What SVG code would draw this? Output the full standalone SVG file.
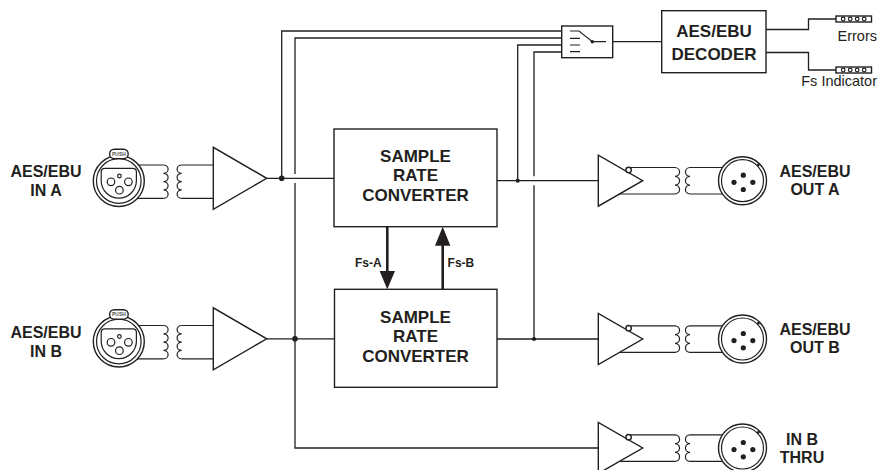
<svg xmlns="http://www.w3.org/2000/svg" xmlns:xlink="http://www.w3.org/1999/xlink" width="880" height="470" viewBox="0 0 880 470">
<style>
.w{fill:none;stroke:#231f20;stroke-width:1.3}
.b{fill:#fff;stroke:#231f20;stroke-width:1.4}
.thin{fill:none;stroke:#231f20;stroke-width:1.2}
.dot{fill:#231f20}
.fat{fill:none;stroke:#231f20;stroke-width:2.6}
.lbl{font-family:"Liberation Sans",Arial,sans-serif;font-weight:bold;font-size:16px;fill:#231f20;text-anchor:middle}
.box{font-family:"Liberation Sans",Arial,sans-serif;font-weight:bold;font-size:17px;fill:#231f20;text-anchor:middle}
.sm{font-family:"Liberation Sans",Arial,sans-serif;font-weight:bold;font-size:12px;fill:#231f20}
.reg{font-family:"Liberation Sans",Arial,sans-serif;font-size:14.5px;fill:#231f20;text-anchor:end}
.push{font-family:"Liberation Sans",Arial,sans-serif;font-weight:bold;font-size:5px;fill:#555;text-anchor:middle}
</style>
<defs>
<g id="inChain">
<path class="thin" d="M130,165H163.5M130,198.3H163.5M181.7,165H214M181.7,198.3H214"/>
<path class="thin" d="M163.5,165a4.6,4.1625 0 0 1 0,8.325a4.6,4.1625 0 0 1 0,8.325a4.6,4.1625 0 0 1 0,8.325a4.6,4.1625 0 0 1 0,8.325"/>
<path class="thin" d="M181.7,165a4.6,4.1625 0 0 0 0,8.325a4.6,4.1625 0 0 0 0,8.325a4.6,4.1625 0 0 0 0,8.325a4.6,4.1625 0 0 0 0,8.325"/>
<circle class="b" cx="118.8" cy="181" r="25.5"/>
<circle class="thin" cx="118.8" cy="181" r="22.3"/>
<rect class="b" x="109.6" y="149.2" width="18.6" height="9.4" rx="4.7" stroke-width="1.1"/>
<text class="push" x="118.9" y="155.7">PUSH</text>
<path class="thin" d="M101.2,172Q101.2,168.4 105,168.4L132.6,168.4Q136.4,168.4 136.4,172L136.4,180.6A17.6,17.6 0 0 1 101.2,180.6Z"/>
<circle class="thin" cx="111" cy="181.8" r="3.8"/>
<circle class="thin" cx="128.4" cy="181.8" r="3.8"/>
<circle class="thin" cx="119.4" cy="190.2" r="3.8"/>
<circle class="thin" cx="119.4" cy="176" r="1.8"/>
<polygon class="b" points="213.3,147.3 213.3,209.3 266.7,178.3" stroke-width="1.2"/>
</g>
<g id="outChain">
<path class="thin" d="M631,167.5H675M619.5,194H675M690,167.5H726M690,194H726"/>
<path class="thin" d="M675,167.5a4.6,4.4167 0 0 1 0,8.833a4.6,4.4167 0 0 1 0,8.833a4.6,4.4167 0 0 1 0,8.833"/>
<path class="thin" d="M690,167.5a4.6,4.4167 0 0 0 0,8.833a4.6,4.4167 0 0 0 0,8.833a4.6,4.4167 0 0 0 0,8.833"/>
<polygon class="b" points="598.3,155.2 598.3,206.2 642.7,180.7" stroke-width="1.2"/>
<circle class="b" cx="628.6" cy="169.9" r="2.7" stroke-width="1.1"/>
<circle class="b" cx="742.5" cy="180.7" r="24"/>
<circle class="thin" cx="742.5" cy="180.7" r="21"/>
<circle class="dot" cx="758.3" cy="165" r="1.4"/>
<circle class="dot" cx="743.3" cy="175.2" r="2.6"/>
<circle class="dot" cx="734" cy="182.3" r="2.6"/>
<circle class="dot" cx="752.8" cy="182.3" r="2.6"/>
<circle class="dot" cx="743.3" cy="189.5" r="2.6"/>
</g>
<g id="led">
<rect class="b" x="836" y="-3" width="35.5" height="6" stroke-width="1.1"/>
<circle class="thin" cx="843.2" cy="0" r="1.8" stroke-width="0.9"/>
<circle class="thin" cx="850.2" cy="0" r="1.8" stroke-width="0.9"/>
<circle class="thin" cx="857.2" cy="0" r="1.8" stroke-width="0.9"/>
<circle class="thin" cx="864.2" cy="0" r="1.8" stroke-width="0.9"/>
</g>
</defs>
<rect width="880" height="470" fill="#fff"/>
<g id="connectors">
<path class="w" d="M281.7,178.3V31H561.7"/>
<path class="w" d="M295,174V38H561.7M295,183V448H598.3"/>
<path class="w" d="M517.7,180.7V45H561.7"/>
<path class="w" d="M534,176.2V52H561.7M534,185.2V339"/>
<path class="w" d="M266.7,178.3H334M266.7,338.8H334.5"/>
<path class="w" d="M497,180.7H598.3M497,339H598.3"/>
<path class="w" d="M612.7,41.7H661.7"/>
<path class="w" d="M766,29.5H808.5V19H836M766,52.5H808.5V70H836"/>
<circle class="dot" cx="281.7" cy="178.3" r="2.8"/>
<circle class="dot" cx="295" cy="338.8" r="2.8"/>
<circle class="dot" cx="517.7" cy="180.7" r="2.1"/>
<circle class="dot" cx="534" cy="339" r="2.1"/>
<g id="fs-a">
<path class="fat" d="M387.3,226.7V273"/>
<polygon class="dot" points="379.6,271 395,271 387.3,289.3"/>
</g>
<g id="fs-b">
<path class="fat" d="M442.7,289.3V244"/>
<polygon class="dot" points="435,245.7 450.4,245.7 442.7,226.7"/>
</g>
<text class="sm" x="381.6" y="266.5" text-anchor="end">Fs-A</text>
<text class="sm" x="447.6" y="266.5">Fs-B</text>
</g>
<g id="in-a">
<use xlink:href="#inChain" href="#inChain"/>
<text class="lbl" x="46" y="177.3">AES/EBU</text>
<text class="lbl" x="46" y="196">IN A</text>
</g>
<g id="in-b">
<use xlink:href="#inChain" href="#inChain" transform="translate(0,160.5)"/>
<text class="lbl" x="46" y="337.9">AES/EBU</text>
<text class="lbl" x="46" y="356.5">IN B</text>
</g>
<g id="src-a">
<rect class="b" x="334" y="129" width="163" height="97.7"/>
<text class="box" x="415.5" y="162">SAMPLE</text>
<text class="box" x="415.5" y="181">RATE</text>
<text class="box" x="415.5" y="200.5">CONVERTER</text>
</g>
<g id="src-b">
<rect class="b" x="334.5" y="289.3" width="162.5" height="98"/>
<text class="box" x="415.5" y="323">SAMPLE</text>
<text class="box" x="415.5" y="342">RATE</text>
<text class="box" x="415.5" y="361.5">CONVERTER</text>
</g>
<g id="switch">
<rect class="b" x="561.7" y="26" width="51" height="31.7"/>
<path class="thin" d="M570,31H579L592.3,41.7H606M570,38.3H580M570,45H580M570,51.7H580"/>
<circle class="dot" cx="592.3" cy="41.7" r="1.7"/>
</g>
<g id="decoder">
<rect class="b" x="661.7" y="10.7" width="104.3" height="62"/>
<text class="box" x="714" y="37.3">AES/EBU</text>
<text class="box" x="714" y="59.7">DECODER</text>
</g>
<g id="errors">
<use xlink:href="#led" href="#led" transform="translate(0,19)"/>
<text class="reg" x="877" y="40.5">Errors</text>
</g>
<g id="fs-indicator">
<use xlink:href="#led" href="#led" transform="translate(0,70)"/>
<text class="reg" x="877" y="85.5">Fs Indicator</text>
</g>
<g id="out-a">
<use xlink:href="#outChain" href="#outChain"/>
<text class="lbl" x="815" y="176.7">AES/EBU</text>
<text class="lbl" x="815" y="195">OUT A</text>
</g>
<g id="out-b">
<use xlink:href="#outChain" href="#outChain" transform="translate(0,158.3)"/>
<text class="lbl" x="815" y="335">AES/EBU</text>
<text class="lbl" x="815" y="353.3">OUT B</text>
</g>
<g id="in-b-thru">
<use xlink:href="#outChain" href="#outChain" transform="translate(0,267.3)"/>
<text class="lbl" x="802" y="445">IN B</text>
<text class="lbl" x="802" y="463.3">THRU</text>
</g>
</svg>
